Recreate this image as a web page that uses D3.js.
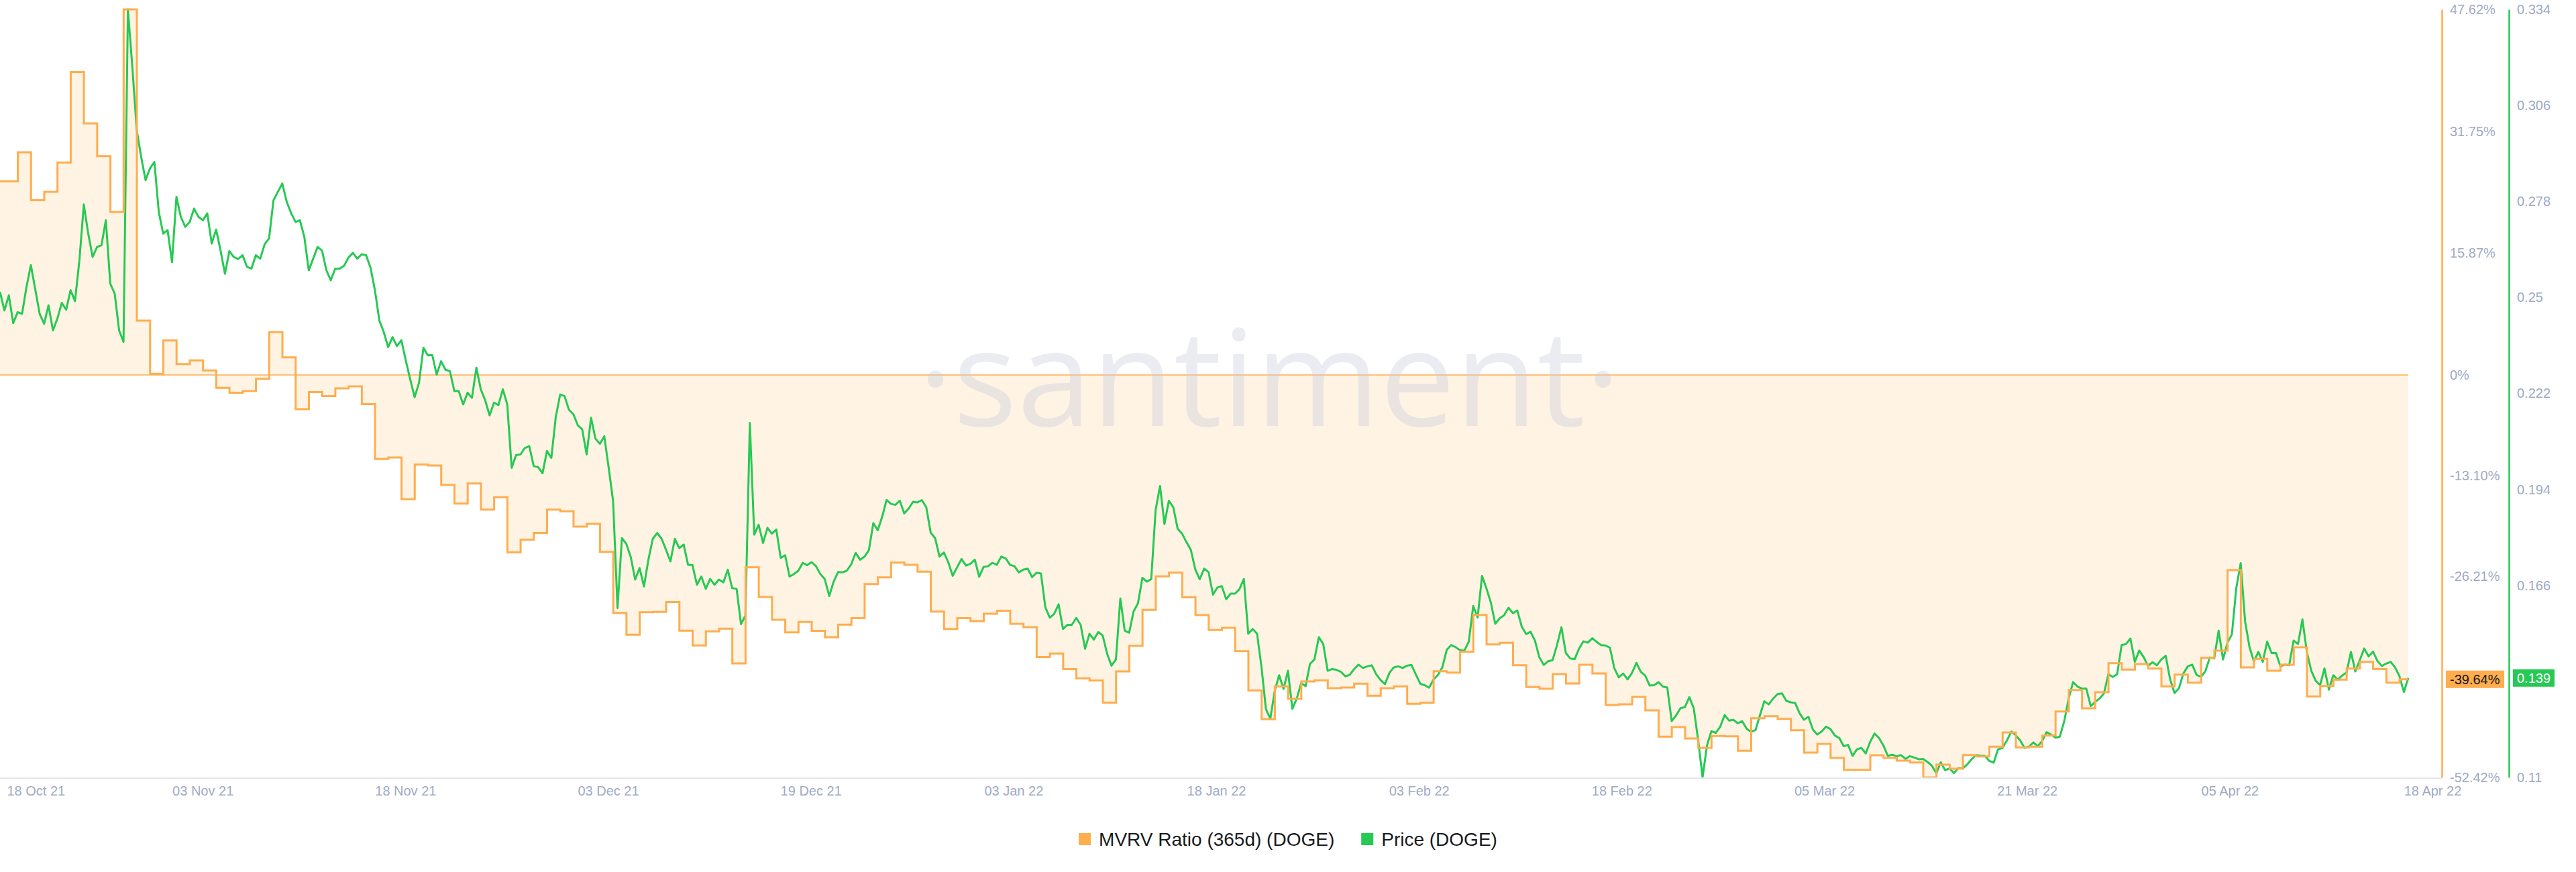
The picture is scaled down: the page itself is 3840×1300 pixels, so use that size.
<!DOCTYPE html>
<html><head><meta charset="utf-8">
<script src="https://cdn.jsdelivr.net/npm/d3@7"></script>
<style>
html,body{margin:0;padding:0;background:#fff;}
svg{display:block;}
text{font-family:"Liberation Sans",Arial,sans-serif;}
</style></head><body>
<svg id="chart" width="3840" height="1300"></svg>
<script>
// ---------- DATA ----------
const seriesNames = ["MVRV Ratio (365d) (DOGE)", "Price (DOGE)"];
// MVRV (365d), daily values in %, first day 18 Oct 21
const mvrvValues = [
25.24,29.02,22.76,23.85,27.67,39.45,32.76,28.50,21.24,47.62,
7.07,0.16,4.50,1.42,1.90,0.60,-1.67,-2.32,-2.10,-0.49,
5.60,2.29,-4.45,-2.23,-2.75,-1.75,-1.49,-3.80,-10.93,-10.75,
-16.19,-11.66,-11.79,-14.32,-16.75,-14.14,-17.53,-15.92,-23.10,-21.45,
-20.57,-17.53,-17.75,-19.75,-19.40,-23.05,-31.00,-33.84,-30.91,-30.87,
-29.57,-33.31,-35.22,-33.40,-33.05,-37.57,-25.05,-28.92,-31.88,-33.53,
-32.18,-33.32,-34.16,-32.53,-31.66,-27.23,-26.36,-24.45,-24.73,-25.61,
-30.82,-33.10,-31.66,-32.07,-31.10,-30.70,-32.41,-32.85,-36.74,-36.28,
-38.31,-39.50,-39.80,-42.68,-38.62,-35.28,-30.60,-26.23,-25.74,-28.95,
-31.28,-33.22,-32.94,-35.97,-41.09,-44.84,-40.56,-42.17,-39.92,-39.78,
-40.80,-40.71,-40.21,-41.79,-40.80,-40.56,-42.83,-42.69,-38.59,-38.76,
-36.05,-31.25,-35.09,-34.89,-37.80,-40.65,-40.86,-38.96,-40.19,-37.74,
-38.88,-42.98,-42.89,-41.93,-43.68,-47.12,-45.87,-47.35,-48.57,-47.03,
-47.06,-48.95,-44.70,-44.44,-44.79,-46.28,-49.19,-48.06,-49.88,-51.43,
-51.43,-49.54,-49.88,-50.23,-50.47,-52.42,-50.76,-51.28,-49.51,-49.69,
-48.43,-46.56,-48.52,-48.43,-46.97,-43.83,-41.03,-43.42,-41.32,-37.54,
-38.38,-37.65,-38.24,-40.56,-39.02,-40.07,-36.84,-35.90,-25.42,-38.09,
-36.98,-38.53,-37.74,-35.47,-41.87,-40.51,-39.69,-38.24,-37.36,-38.30,
-40.07,-39.64
];
// DOGE price (USD), one value every 8 hours
const priceValues = [
0.2516,0.2462,0.2506,0.2425,0.2457,0.2452,0.2530,0.2594,0.2523,0.2452,
0.2423,0.2477,0.2404,0.2438,0.2484,0.2464,0.2521,0.2489,0.2608,0.2771,
0.2686,0.2618,0.2647,0.2652,0.2725,0.2540,0.2511,0.2404,0.2370,0.3340,
0.3173,0.2988,0.2910,0.2842,0.2876,0.2895,0.2749,0.2686,0.2696,0.2603,
0.2793,0.2735,0.2706,0.2720,0.2759,0.2735,0.2725,0.2745,0.2657,0.2698,
0.2637,0.2569,0.2635,0.2618,0.2612,0.2623,0.2589,0.2584,0.2623,0.2613,
0.2655,0.2672,0.2783,0.2808,0.2832,0.2779,0.2746,0.2720,0.2725,0.2676,
0.2579,0.2613,0.2647,0.2637,0.2579,0.2550,0.2584,0.2584,0.2592,0.2616,
0.2630,0.2613,0.2626,0.2623,0.2587,0.2521,0.2433,0.2399,0.2355,0.2384,
0.2358,0.2375,0.2316,0.2261,0.2209,
0.2251,0.2353,0.2331,0.2332,0.2275,0.2314,0.2289,0.2285,0.2227,0.2227,
0.2188,0.2222,0.2207,0.2295,0.2232,0.2200,0.2156,0.2193,0.2186,0.2232,
0.2188,0.2003,0.2040,0.2042,0.2061,0.2066,0.2008,0.2005,0.1987,0.2052,
0.2032,0.2151,0.2217,0.2212,0.2172,0.2159,0.2127,0.2115,0.2042,0.2149,
0.2088,0.2073,0.2095,0.2003,0.1906,0.1594,0.1798,0.1781,0.1743,0.1677,
0.1711,0.1657,0.1735,0.1796,0.1813,0.1796,0.1764,0.1730,0.1796,0.1769,
0.1779,0.1720,0.1719,0.1662,0.1686,0.1650,0.1679,0.1662,0.1677,0.1669,
0.1706,0.1652,0.1650,0.1547,0.1572,0.2134,0.1808,0.1837,0.1784,0.1828,
0.1811,0.1823,0.1740,0.1748,0.1686,0.1693,0.1703,0.1726,0.1719,0.1728,
0.1716,
0.1693,0.1678,0.1629,0.1671,0.1699,0.1698,0.1703,0.1722,0.1755,0.1735,
0.1744,0.1763,0.1842,0.1821,0.1860,0.1909,0.1898,0.1895,0.1907,0.1870,
0.1884,0.1904,0.1902,0.1909,0.1888,0.1814,0.1798,0.1744,0.1756,0.1727,
0.1688,0.1713,0.1737,0.1718,0.1723,0.1735,0.1685,0.1714,0.1716,0.1726,
0.1720,0.1744,0.1739,0.1720,0.1716,0.1698,0.1706,0.1709,0.1684,0.1697,
0.1695,0.1596,0.1566,0.1577,0.1605,0.1533,0.1545,0.1545,0.1565,0.1545,
0.1475,0.1519,0.1502,0.1524,0.1514,0.1461,0.1426,0.1444,0.1622,0.1528,
0.1522,0.1584,0.1608,0.1682,0.1671,0.1678,0.1880,0.1950,0.1839,0.1907,
0.1888,0.1825,0.1811,0.1786,0.1763,0.1706,0.1678,0.1709,0.1699,0.1633,
0.1654,
0.1658,0.1620,0.1636,0.1636,0.1649,0.1679,0.1519,0.1533,0.1519,0.1422,
0.1300,0.1271,0.1352,0.1398,0.1358,0.1411,0.1300,0.1330,0.1375,0.1366,
0.1431,0.1444,0.1509,0.1489,0.1411,0.1416,0.1414,0.1408,0.1395,0.1399,
0.1416,0.1429,0.1419,0.1424,0.1427,0.1401,0.1384,0.1372,0.1405,0.1421,
0.1424,0.1419,0.1426,0.1428,0.1400,0.1373,0.1369,0.1362,0.1385,0.1399,
0.1421,0.1472,0.1486,0.1480,0.1471,0.1470,0.1496,0.1600,0.1566,0.1688,
0.1651,0.1610,0.1548,0.1564,0.1573,0.1595,0.1579,0.1587,
0.1540,0.1518,0.1525,0.1499,0.1450,0.1428,0.1439,0.1442,0.1486,0.1538,
0.1463,0.1447,0.1445,0.1476,0.1497,0.1493,0.1506,0.1495,0.1486,0.1485,
0.1478,0.1418,0.1392,0.1403,0.1386,0.1405,0.1434,0.1408,0.1397,0.1368,
0.1369,0.1378,0.1365,0.1362,0.1264,0.1281,0.1302,0.1305,0.1334,0.1302,
0.1209,0.1100,0.1193,0.1235,0.1230,0.1248,0.1282,0.1266,0.1268,0.1258,
0.1264,0.1242,0.1233,0.1238,0.1281,0.1322,0.1313,0.1330,0.1343,0.1345,
0.1323,0.1319,0.1317,0.1287,0.1268,0.1277,0.1240,0.1225,
0.1234,0.1248,0.1241,0.1222,0.1215,0.1191,0.1195,0.1163,0.1182,0.1186,
0.1170,0.1204,0.1228,0.1215,0.1193,0.1163,0.1166,0.1162,0.1165,0.1154,
0.1162,0.1158,0.1153,0.1154,0.1145,0.1134,0.1112,0.1144,0.1121,0.1126,
0.1113,0.1127,0.1126,0.1138,0.1153,0.1165,0.1163,0.1163,0.1148,0.1143,
0.1182,0.1186,0.1208,0.1234,0.1223,0.1208,0.1186,0.1190,0.1202,0.1191,
0.1206,0.1232,0.1225,0.1216,0.1219,0.1264,0.1330,0.1378,0.1365,0.1359,
0.1359,0.1308,0.1320,0.1330,0.1345,0.1401,0.1393,
0.1401,0.1486,0.1489,0.1505,0.1437,0.1470,0.1451,0.1425,0.1436,0.1427,
0.1444,0.1455,0.1386,0.1346,0.1360,0.1403,0.1424,0.1429,0.1399,0.1393,
0.1410,0.1450,0.1447,0.1528,0.1444,0.1493,0.1517,0.1652,0.1725,0.1555,
0.1480,0.1438,0.1466,0.1437,0.1496,0.1463,0.1463,0.1424,0.1429,0.1427,
0.1499,0.1489,0.1561,0.1466,0.1411,0.1382,0.1369,0.1418,0.1356,0.1398,
0.1385,0.1397,0.1406,0.1466,0.1409,0.1442,0.1476,0.1453,0.1467,0.1440,
0.1425,0.1432,0.1437,0.1421,0.1395,0.1349,0.1390
];
const priceStepHours = 8;
const xTickLabels = ["18 Oct 21","03 Nov 21","18 Nov 21","03 Dec 21","19 Dec 21","03 Jan 22","18 Jan 22","03 Feb 22","18 Feb 22","05 Mar 22","21 Mar 22","05 Apr 22","18 Apr 22"];
const mvrvDomain = [-52.42, 47.62];
const mvrvTicks = [47.62, 31.75, 15.87, 0, -13.10, -26.21, -52.42];
const mvrvTickLabels = ["47.62%","31.75%","15.87%","0%","-13.10%","-26.21%","-52.42%"];
const priceDomain = [0.11, 0.334];
const priceTicks = [0.334, 0.306, 0.278, 0.25, 0.222, 0.194, 0.166, 0.11];
const priceTickLabels = ["0.334","0.306","0.278","0.25","0.222","0.194","0.166","0.11"];
const lastValueLabels = ["-39.64%", "0.139"];

// ---------- STYLE / LAYOUT ----------
const ORANGE = "#ffad4d", GREEN = "#26c953", AXIS_TXT = "#9faac4";
const W = 3840, H = 1300;
const plotRight = 3590, axisLineRight = 3640, plotTop = 14, plotBottom = 1159;

const svg = d3.select("#chart");
svg.append("rect").attr("width", W).attr("height", H).attr("fill", "#fff");

const T0 = new Date(Date.UTC(2021, 9, 17, 15, 45));
const T1 = new Date(+T0 + 182 * 864e5);
const x = d3.scaleUtc().domain([T0, T1]).range([0, plotRight]);
const yM = d3.scaleLinear().domain(mvrvDomain).range([plotBottom, plotTop]);
const yP = d3.scaleLinear().domain(priceDomain).range([plotBottom, plotTop]);

const mvrvPts = mvrvValues.map((v, i) => ({ t: i === 0 ? T0 : new Date(Date.UTC(2021, 9, 18 + i)), v }));
mvrvPts.push({ t: T1, v: mvrvValues[mvrvValues.length - 1] });
const pricePts = priceValues.map((v, i) => ({ t: new Date(+T0 + i * priceStepHours * 3600e3), v }));

// area
const area = d3.area().x(d => x(d.t)).y0(yM(0)).y1(d => yM(d.v)).curve(d3.curveStepAfter);
svg.append("path").datum(mvrvPts).attr("d", area).attr("fill", ORANGE).attr("fill-opacity", 0.15);

// zero line
svg.append("line").attr("x1", 0).attr("x2", plotRight).attr("y1", yM(0)).attr("y2", yM(0))
  .attr("stroke", ORANGE).attr("stroke-width", 1.5);

// watermark
svg.append("text").attr("x", 1892).attr("y", 635).attr("text-anchor", "middle")
  .style("font-family", "'Open Sans', 'Noto Sans', sans-serif").style("font-size", "200px")
  .attr("fill", "rgb(200,205,220)").attr("fill-opacity", 0.38).text("·santiment·");

// price line
svg.append("path").datum(pricePts)
  .attr("d", d3.line().x(d => x(d.t)).y(d => yP(d.v)))
  .attr("fill", "none").attr("stroke", GREEN).attr("stroke-width", 3).attr("stroke-linejoin", "round");

// mvrv line
svg.append("path").datum(mvrvPts)
  .attr("d", d3.line().x(d => x(d.t)).y(d => yM(d.v)).curve(d3.curveStepAfter))
  .attr("fill", "none").attr("stroke", ORANGE).attr("stroke-width", 3);

// x axis baseline
svg.append("line").attr("x1", 0).attr("x2", axisLineRight).attr("y1", plotBottom + 1).attr("y2", plotBottom + 1)
  .attr("stroke", "#e3e7f0").attr("stroke-width", 2);

// x axis labels
const xp = d3.scalePoint().domain(xTickLabels).range([0, 3626]);
const gx = svg.append("g").attr("transform", `translate(0,${plotBottom})`)
  .call(d3.axisBottom(xp).tickSize(0).tickPadding(13));
gx.select(".domain").remove();
gx.selectAll("text").attr("fill", AXIS_TXT).style("font-size", "20px")
  .style("font-family", "'Liberation Sans', Arial, sans-serif");
gx.select(".tick:first-of-type text").attr("text-anchor", "start").attr("x", 10);

// right axes
function rightAxis(xPos, scale, ticks, labels, color) {
  const g = svg.append("g").attr("transform", `translate(${xPos},0)`)
    .call(d3.axisRight(scale).tickValues(ticks).tickFormat((d, i) => labels[i]).tickSize(0).tickSizeOuter(0).tickPadding(12));
  g.select(".domain").attr("stroke", color).attr("stroke-width", 2.5);
  g.selectAll("text").attr("fill", AXIS_TXT).style("font-size", "20px")
    .style("font-family", "'Liberation Sans', Arial, sans-serif");
  return g;
}
rightAxis(axisLineRight, yM, mvrvTicks, mvrvTickLabels, ORANGE);
rightAxis(axisLineRight + 100, yP, priceTicks, priceTickLabels, GREEN);

// last value labels
function lastLabel(x0, w, yc, fill, txtColor, label) {
  svg.append("rect").attr("x", x0).attr("y", yc - 13).attr("width", w).attr("height", 26).attr("fill", fill);
  svg.append("text").attr("x", x0 + 6).attr("y", yc).attr("dy", "0.35em").attr("fill", txtColor)
    .style("font-size", "20px").text(label);
}
lastLabel(3646, 87, yM(mvrvValues[mvrvValues.length - 1]), ORANGE, "#15171c", lastValueLabels[0]);
lastLabel(3746, 62, yP(priceValues[priceValues.length - 1]), GREEN, "#ffffff", lastValueLabels[1]);

// legend
const legend = svg.append("g");
const colors = [ORANGE, GREEN];
let cx = 0;
seriesNames.forEach((name, i) => {
  const g = legend.append("g").attr("transform", `translate(${cx},0)`);
  g.append("rect").attr("x", 0).attr("y", -9).attr("width", 18).attr("height", 18).attr("fill", colors[i]);
  const t = g.append("text").attr("x", 30).attr("y", 0).attr("dy", "0.35em")
    .attr("fill", "#181a20").style("font-size", "28px").text(name);
  cx += 30 + t.node().getComputedTextLength() + 40;
});
const legW = cx - 40;
legend.attr("transform", `translate(${(W - legW) / 2},1251)`);
</script>
</body></html>
